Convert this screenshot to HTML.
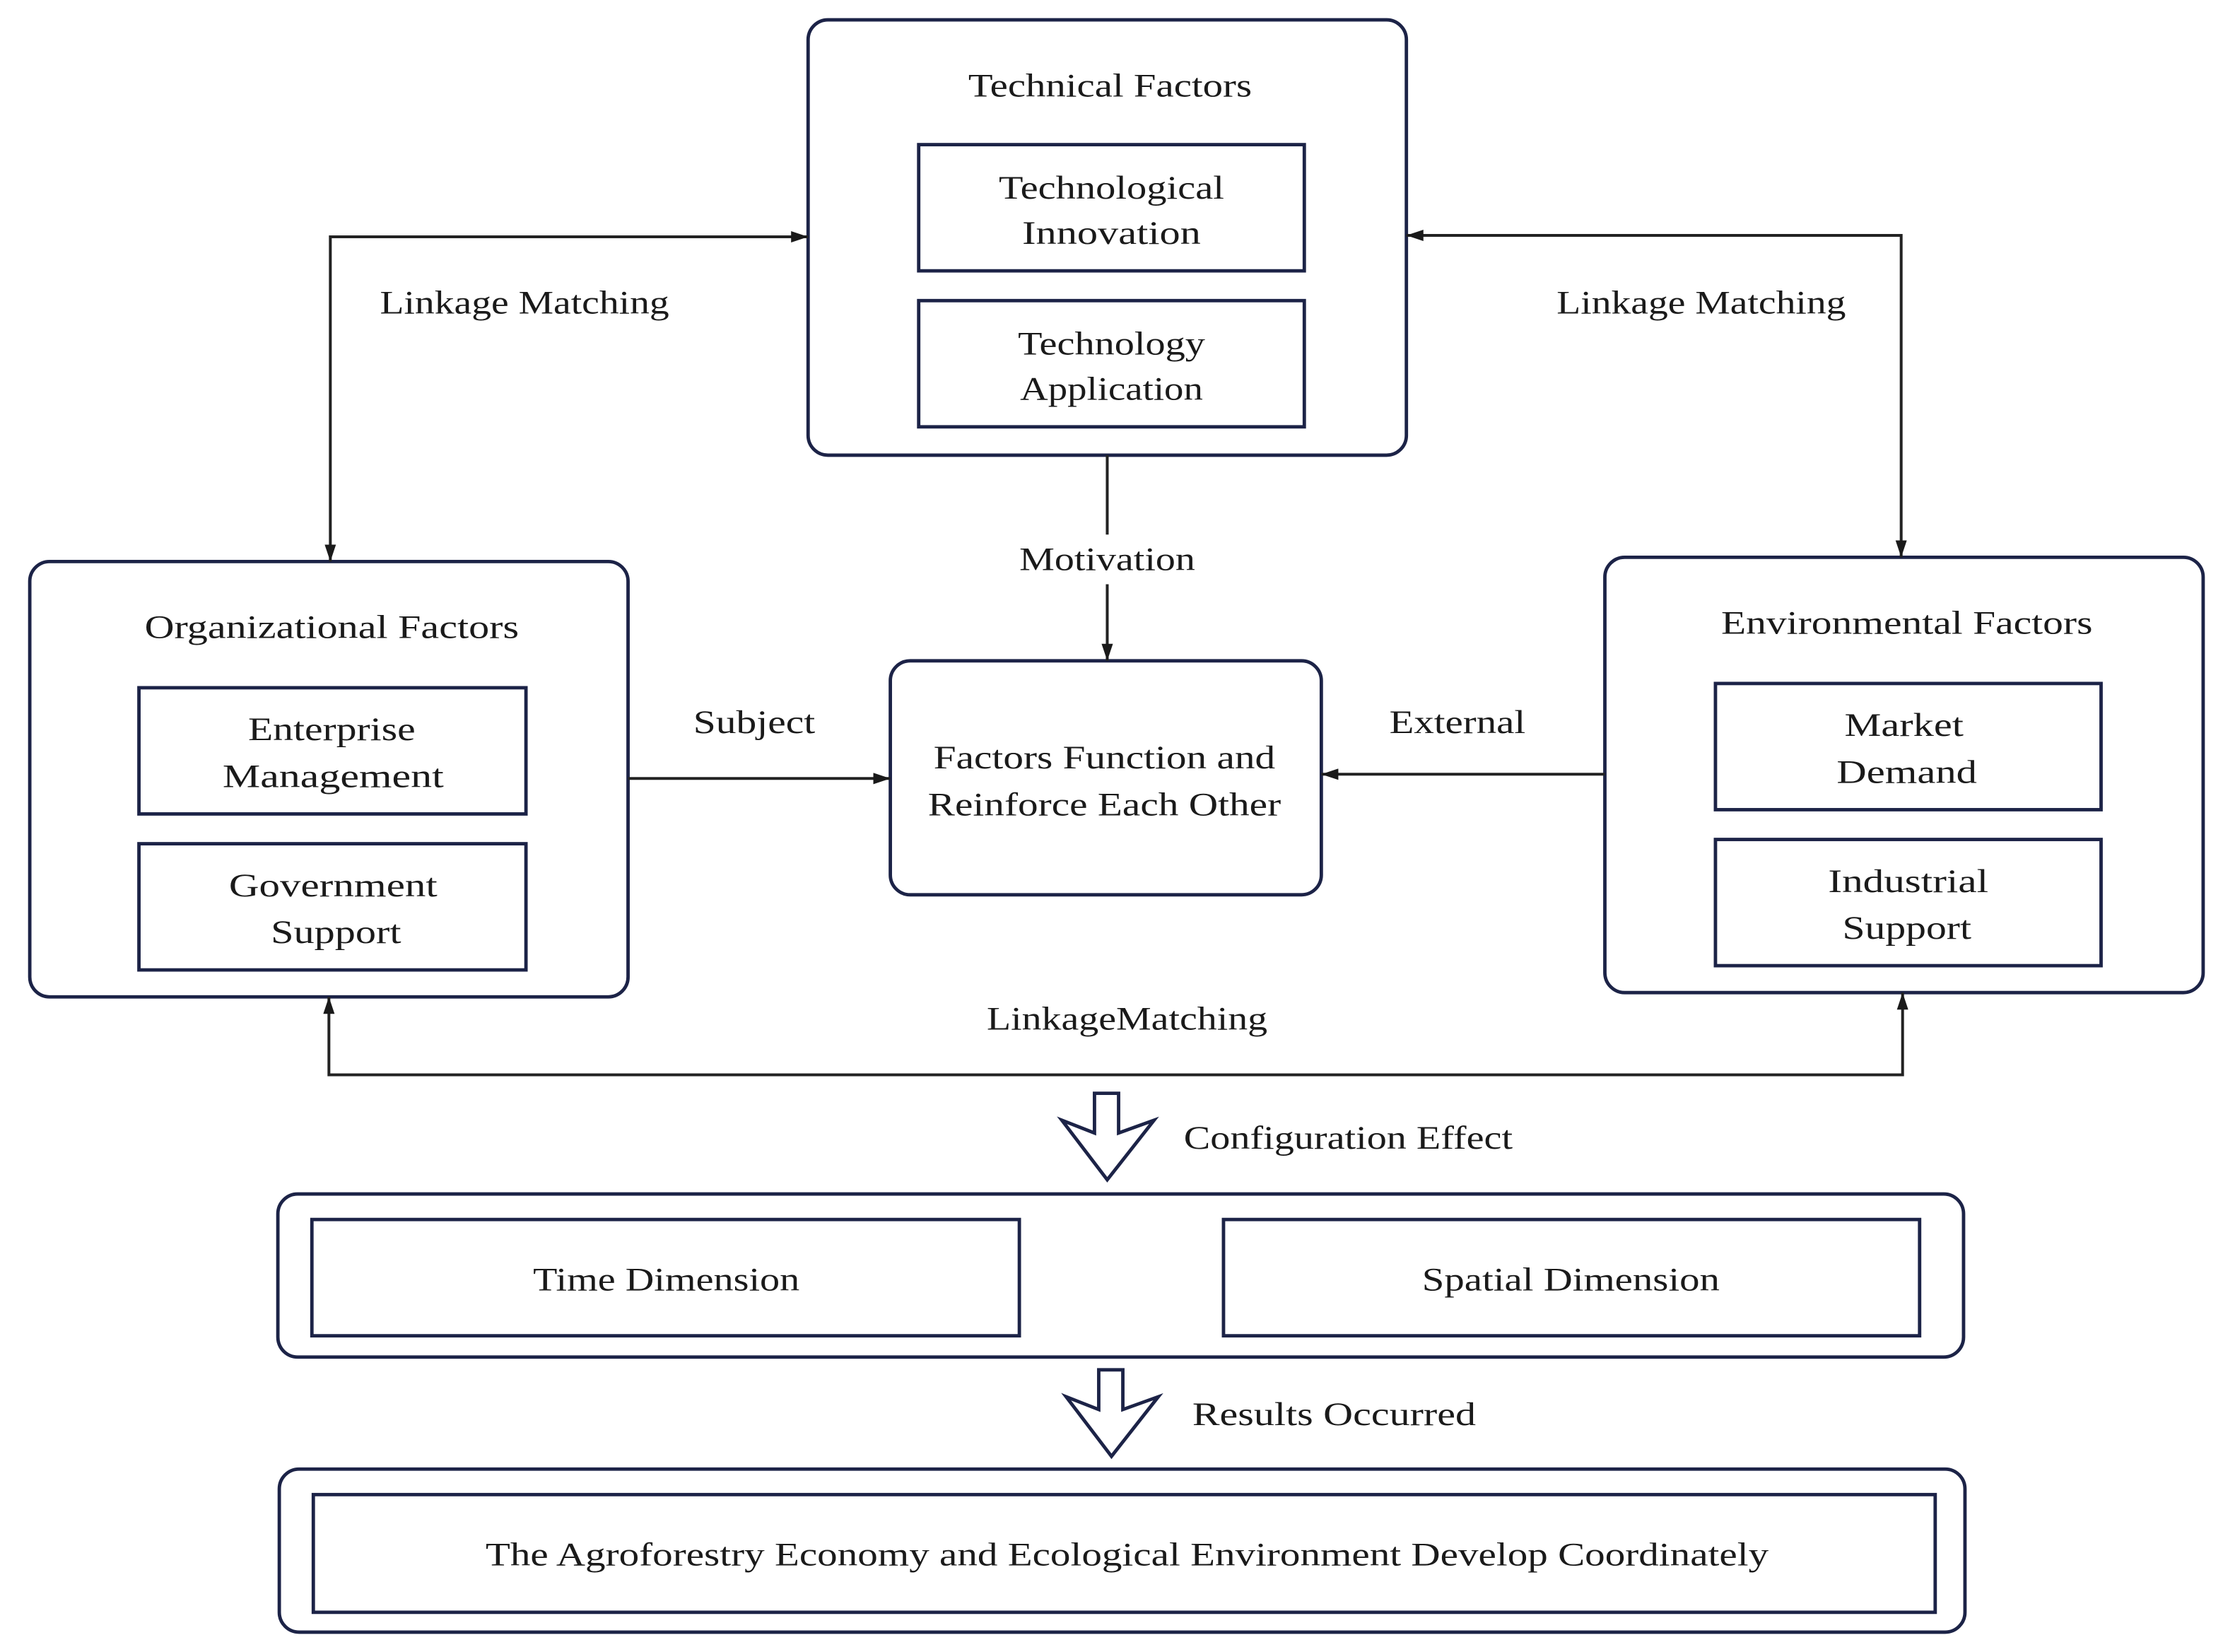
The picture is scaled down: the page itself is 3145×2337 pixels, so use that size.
<!DOCTYPE html>
<html><head><meta charset="utf-8"><style>
html,body{margin:0;padding:0;background:#fff}
svg{display:block}
text{font-family:"Liberation Serif",serif;font-size:23px;fill:#1a1a1a;text-anchor:middle}
</style></head><body>
<svg width="3145" height="2337" viewBox="0 0 1568 1165" preserveAspectRatio="none" xmlns="http://www.w3.org/2000/svg">
<defs>
<marker id="a" viewBox="0 0 12 8" refX="12" refY="4" markerWidth="12" markerHeight="8" markerUnits="userSpaceOnUse" orient="auto-start-reverse">
<path d="M0,0 L12,4 L0,8 Z" fill="#1a1a1a"/></marker>
</defs>
<g fill="none" stroke="#1c2347" stroke-width="2.4">
<rect x="570" y="14" width="422" height="307" rx="14"/>
<rect x="648" y="102" width="272" height="89"/>
<rect x="648" y="212" width="272" height="89"/>
<rect x="21" y="396" width="422" height="307" rx="14"/>
<rect x="98" y="485" width="273" height="89"/>
<rect x="98" y="595" width="273" height="89"/>
<rect x="1132" y="393" width="422" height="307" rx="14"/>
<rect x="1210" y="482" width="272" height="89"/>
<rect x="1210" y="592" width="272" height="89"/>
<rect x="628" y="466" width="304" height="165" rx="14"/>
<rect x="196" y="842" width="1189" height="115" rx="14"/>
<rect x="220" y="860" width="499" height="82"/>
<rect x="863" y="860" width="491" height="82"/>
<rect x="197" y="1036" width="1189" height="115" rx="14"/>
<rect x="221" y="1054" width="1144" height="83"/>
<path d="M772,771 H789 V799 L814,790 L781,832 L749,790 L772,799 Z" stroke-linejoin="miter"/>
<path d="M775,966 H792 V994 L817,985 L784,1027 L752,985 L775,994 Z" stroke-linejoin="miter"/>
</g>
<g fill="none" stroke="#222" stroke-width="2">
<path d="M233,396 V167 H570" marker-start="url(#a)" marker-end="url(#a)"/>
<path d="M1341,393 V166 H992" marker-start="url(#a)" marker-end="url(#a)"/>
<path d="M781,321 V377"/>
<path d="M781,412 V466" marker-end="url(#a)"/>
<path d="M443,549 H628" marker-end="url(#a)"/>
<path d="M1132,546 H932" marker-end="url(#a)"/>
<path d="M232,703 V758 H1342 V700" marker-start="url(#a)" marker-end="url(#a)"/>
</g>
<g>
<text x="783" y="68" textLength="200" lengthAdjust="spacingAndGlyphs">Technical Factors</text>
<text x="784" y="140" textLength="159" lengthAdjust="spacingAndGlyphs">Technological</text>
<text x="784" y="172" textLength="126" lengthAdjust="spacingAndGlyphs">Innovation</text>
<text x="784" y="250" textLength="132" lengthAdjust="spacingAndGlyphs">Technology</text>
<text x="784" y="282" textLength="129" lengthAdjust="spacingAndGlyphs">Application</text>
<text x="370" y="221" textLength="204" lengthAdjust="spacingAndGlyphs">Linkage Matching</text>
<text x="1200" y="221" textLength="204" lengthAdjust="spacingAndGlyphs">Linkage Matching</text>
<text x="781" y="402" textLength="124" lengthAdjust="spacingAndGlyphs">Motivation</text>
<text x="234" y="450" textLength="264" lengthAdjust="spacingAndGlyphs">Organizational Factors</text>
<text x="234" y="522" textLength="118" lengthAdjust="spacingAndGlyphs">Enterprise</text>
<text x="235" y="555" textLength="156" lengthAdjust="spacingAndGlyphs">Management</text>
<text x="235" y="632" textLength="147" lengthAdjust="spacingAndGlyphs">Government</text>
<text x="237" y="665" textLength="92" lengthAdjust="spacingAndGlyphs">Support</text>
<text x="1345" y="447" textLength="262" lengthAdjust="spacingAndGlyphs">Environmental Factors</text>
<text x="1343" y="519" textLength="84" lengthAdjust="spacingAndGlyphs">Market</text>
<text x="1345" y="552" textLength="99" lengthAdjust="spacingAndGlyphs">Demand</text>
<text x="1346" y="629" textLength="113" lengthAdjust="spacingAndGlyphs">Industrial</text>
<text x="1345" y="662" textLength="91" lengthAdjust="spacingAndGlyphs">Support</text>
<text x="532" y="517" textLength="86" lengthAdjust="spacingAndGlyphs">Subject</text>
<text x="1028" y="517" textLength="96" lengthAdjust="spacingAndGlyphs">External</text>
<text x="779" y="542" textLength="241" lengthAdjust="spacingAndGlyphs">Factors Function and</text>
<text x="779" y="575" textLength="249" lengthAdjust="spacingAndGlyphs">Reinforce Each Other</text>
<text x="795" y="726" textLength="198" lengthAdjust="spacingAndGlyphs">LinkageMatching</text>
<text x="951" y="810" textLength="232" lengthAdjust="spacingAndGlyphs">Configuration Effect</text>
<text x="470" y="910" textLength="188" lengthAdjust="spacingAndGlyphs">Time Dimension</text>
<text x="1108" y="910" textLength="210" lengthAdjust="spacingAndGlyphs">Spatial Dimension</text>
<text x="941" y="1005" textLength="200" lengthAdjust="spacingAndGlyphs">Results Occurred</text>
<text x="795" y="1104" textLength="905" lengthAdjust="spacingAndGlyphs">The Agroforestry Economy and Ecological Environment Develop Coordinately</text>
</g>
</svg>
</body></html>
